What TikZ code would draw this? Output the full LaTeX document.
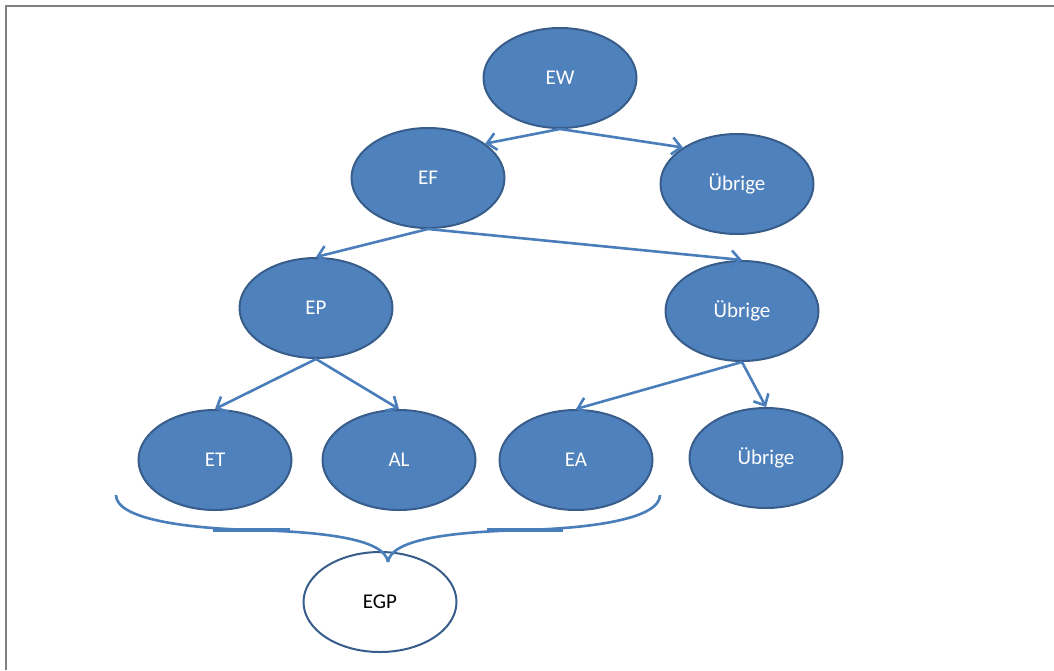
\documentclass[tikz,border=0pt]{standalone}
\usepackage{fontspec}
\setmainfont{Carlito}
\usetikzlibrary{shapes.geometric,arrows.meta}
\definecolor{nfill}{HTML}{4F81BD}
\definecolor{nborder}{HTML}{385D8A}
\definecolor{arr}{HTML}{4A7EBB}
\definecolor{frame}{HTML}{808080}
\tikzset{
  oval/.style={ellipse, draw=nborder, line width=2pt, fill=nfill, text=white,
    minimum width=153pt, minimum height=100pt, inner sep=0pt, font=\fontsize{21}{24}\selectfont},
  ovalw/.style={oval, fill=white, text=black},
  conn/.style={draw=arr, line width=2.6pt, -{Straight Barb[length=9pt,width=17pt,line width=2.6pt]}},
  brace/.style={draw=arr, line width=2.6pt},
  bracebar/.style={draw=arr, line width=3.8pt}
}
\begin{document}
\begin{tikzpicture}[x=1pt,y=-1pt]
\useasboundingbox (0,0) rectangle (1054,670);
\draw[frame, line width=2pt] (6,670) -- (6,6) -- (1054,6);
\node[oval] (ew) at (560,78) {EW};
\node[oval] (ef) at (428,178) {EF};
\node[oval] (ub1) at (737,184) {Übrige};
\node[oval] (ep) at (316,308) {EP};
\node[oval] (ub2) at (742,311) {Übrige};
\node[oval] (et) at (215,460) {ET};
\node[oval] (al) at (399,460) {AL};
\node[oval] (ea) at (576,460) {EA};
\node[oval] (ub3) at (766,458) {Übrige};
\node[ovalw] (egp) at (380,602) {EGP};
\draw[conn] (ew.south) -- (ef.31);
\draw[conn] (ew.south) -- (ub1.146);
\draw[conn] (ef.south) -- (ep.north);
\draw[conn] (ef.south) -- (ub2.north);
\draw[conn] (ep.south) -- (et.north);
\draw[conn] (ep.south) -- (al.north);
\draw[conn] (ub2.south) -- (ea.north);
\draw[conn] (ub2.south) -- (ub3.north);
% brace
\coordinate (bl) at (116,495);
\coordinate (br) at (660,495);
\coordinate (bml) at (252,530);
\coordinate (bmr) at (525,530);
\coordinate (tip) at (388,562);
\draw[brace] (bl) .. controls (116,518) and (180,528) .. (bml)
  .. controls (330,532) and (385,540) .. (tip);
\draw[brace] (br) .. controls (660,518) and (596,528) .. (bmr)
  .. controls (446,532) and (391,540) .. (tip);
\draw[bracebar] (213,530) -- (290,530);
\draw[bracebar] (487,530) -- (563,530);
\end{tikzpicture}
\end{document}
